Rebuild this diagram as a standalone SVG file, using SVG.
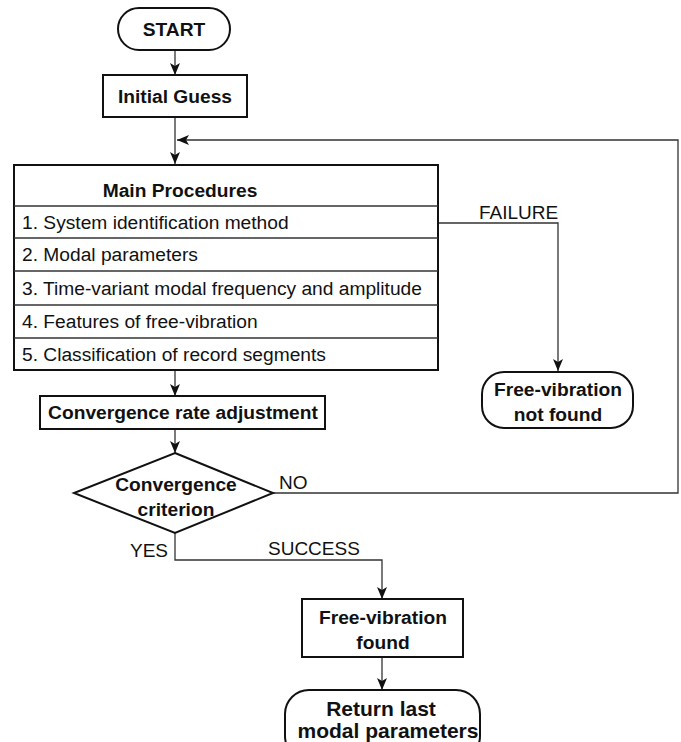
<svg xmlns="http://www.w3.org/2000/svg" width="681" height="742" viewBox="0 0 681 742">
<defs>
<marker id="arr" viewBox="0 0 12 10" refX="12" refY="5" markerWidth="12" markerHeight="10" markerUnits="userSpaceOnUse" orient="auto">
<path d="M0,0 L12,5 L0,10 L3,5 z" fill="#111"/>
</marker>
<style>
.box{fill:#fff;stroke:#111;stroke-width:2}
.row{fill:none;stroke:#333;stroke-width:1.3}
.con{fill:none;stroke:#333;stroke-width:1.3}
.b{font-family:"Liberation Sans",Arial,sans-serif;font-weight:bold;font-size:19.2px;fill:#111;text-anchor:middle}
.r{font-family:"Liberation Sans",Arial,sans-serif;font-size:19.2px;fill:#111}
.l{font-family:"Liberation Sans",Arial,sans-serif;font-size:19px;fill:#111}
</style>
</defs>
<rect width="681" height="742" fill="#fff"/>
<g id="connectors">
<line class="con" x1="175" y1="50" x2="175" y2="75" marker-end="url(#arr)"/>
<line class="con" x1="175" y1="117" x2="175" y2="164" marker-end="url(#arr)"/>
<polyline class="con" points="273,493 678,493 678,140 177,140" marker-end="url(#arr)"/>
<polyline class="con" points="438,223 558,223 558,371" marker-end="url(#arr)"/>
<line class="con" x1="175" y1="370" x2="175" y2="396" marker-end="url(#arr)"/>
<line class="con" x1="175" y1="429" x2="175" y2="453" marker-end="url(#arr)"/>
<polyline class="con" points="175,533 175,560 382,560 382,599" marker-end="url(#arr)"/>
<line class="con" x1="382" y1="657" x2="382" y2="690" marker-end="url(#arr)"/>
<text class="l" x="479" y="219">FAILURE</text>
<text class="l" x="279" y="489">NO</text>
<text class="l" x="130" y="557">YES</text>
<text class="l" x="268" y="555">SUCCESS</text>
</g>
<g id="start">
<rect class="box" x="118" y="8" width="112" height="42" rx="21"/>
<text class="b" x="174" y="36">START</text>
</g>
<g id="initial-guess">
<rect class="box" x="103" y="75" width="144" height="42"/>
<text class="b" x="175" y="103">Initial Guess</text>
</g>
<g id="main-procedures">
<rect class="box" x="14" y="165" width="424" height="205"/>
<line class="row" x1="14" y1="206" x2="438" y2="206"/>
<line class="row" x1="14" y1="238" x2="438" y2="238"/>
<line class="row" x1="14" y1="271" x2="438" y2="271"/>
<line class="row" x1="14" y1="305" x2="438" y2="305"/>
<line class="row" x1="14" y1="338" x2="438" y2="338"/>
<text class="b" x="180" y="197">Main Procedures</text>
<text class="r" x="22" y="229">1. System identification method</text>
<text class="r" x="22" y="261">2. Modal parameters</text>
<text class="r" x="22" y="295">3. Time-variant modal frequency and amplitude</text>
<text class="r" x="22" y="328">4. Features of free-vibration</text>
<text class="r" x="22" y="361">5. Classification of record segments</text>
</g>
<g id="not-found">
<rect class="box" x="482" y="372" width="151" height="56" rx="22"/>
<text class="b" x="558" y="396">Free-vibration</text>
<text class="b" x="558" y="421">not found</text>
</g>
<g id="rate-adjustment">
<rect class="box" x="40" y="396" width="285" height="33"/>
<text class="b" x="183" y="419">Convergence rate adjustment</text>
</g>
<g id="criterion">
<polygon class="box" points="175,453 273,493 175,533 74,493"/>
<text class="b" x="176" y="491">Convergence</text>
<text class="b" x="176" y="516">criterion</text>
</g>
<g id="found">
<rect class="box" x="302" y="599" width="161" height="58"/>
<text class="b" x="383" y="624">Free-vibration</text>
<text class="b" x="383" y="649">found</text>
</g>
<g id="return">
<rect class="box" x="285" y="690" width="195" height="70" rx="24"/>
<text class="b" x="381" y="716" style="font-size:21px">Return last</text>
<text class="b" x="388" y="738" style="font-size:21px">modal parameters</text>
</g>
</svg>
